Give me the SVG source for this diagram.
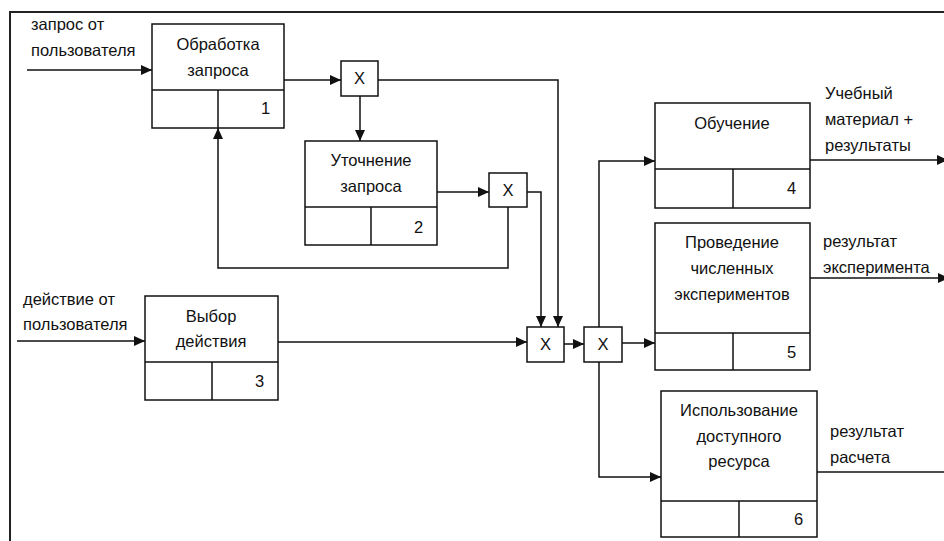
<svg xmlns="http://www.w3.org/2000/svg" width="944" height="541" viewBox="0 0 944 541">
  <style>
    .frame { fill: none; stroke: #222; stroke-width: 2; }
    .box { fill: #fff; stroke: #111; stroke-width: 1.5; }
    .div { fill: none; stroke: #111; stroke-width: 1.5; }
    .wire { fill: none; stroke: #111; stroke-width: 1.5; }
    .arrow { marker-end: url(#head); }
    text { font-family: "Liberation Sans", Arial, sans-serif; font-size: 16.5px; fill: #111; }
    .c { text-anchor: middle; }
  </style>
  <defs>
    <marker id="head" markerUnits="userSpaceOnUse" markerWidth="12" markerHeight="10" refX="11" refY="5" orient="auto">
      <path d="M0,0 L11,5 L0,10 Z" fill="#111"/>
    </marker>
  </defs>

  <rect width="944" height="541" fill="#fff"/>

  <!-- outer frame -->
  <path class="frame" d="M10,541 V12 H944"/>

  <!-- connectors -->
  <g id="connectors">
    <!-- external inputs -->
    <path class="wire arrow" d="M27,70 H152"/>
    <path class="wire arrow" d="M17,341 H145"/>
    <!-- 1 -> junction J1 -->
    <path class="wire arrow" d="M284,80 H341"/>
    <!-- J1 -> 2 -->
    <path class="wire arrow" d="M360,96 V141"/>
    <!-- J1 -> J3 -->
    <path class="wire arrow" d="M378,80 H558 V327"/>
    <!-- 2 -> J2 -->
    <path class="wire arrow" d="M437,192 H489"/>
    <!-- J2 -> J3 -->
    <path class="wire arrow" d="M527,192 H541 V327"/>
    <!-- J2 feedback -> 1 -->
    <path class="wire arrow" d="M508,207 V268 H218 V128"/>
    <!-- 3 -> J3 -->
    <path class="wire arrow" d="M278,342 H527"/>
    <!-- J3 -> J4 -->
    <path class="wire arrow" d="M564,344 H584"/>
    <!-- J4 -> 4, 5, 6 -->
    <path class="wire arrow" d="M599,327 V161 H655"/>
    <path class="wire arrow" d="M622,343 H655"/>
    <path class="wire arrow" d="M599,362 V477 H661"/>
    <!-- outputs -->
    <path class="wire arrow" d="M810,160 H948"/>
    <path class="wire arrow" d="M810,278 H949"/>
    <path class="wire arrow" d="M817,472 H955"/>
  </g>

  <!-- flow labels -->
  <g id="labels">
    <text x="31" y="30">запрос от</text>
    <text x="31" y="56">пользователя</text>
    <text x="23" y="305">действие от</text>
    <text x="23" y="330">пользователя</text>
    <text x="825" y="99">Учебный</text>
    <text x="825" y="125">материал +</text>
    <text x="825" y="151">результаты</text>
    <text x="823" y="247">результат</text>
    <text x="823" y="273">эксперимента</text>
    <text x="830" y="437">результат</text>
    <text x="830" y="463">расчета</text>
  </g>

  <!-- activity 1 -->
  <g id="node1">
    <rect class="box" x="152" y="24" width="132" height="104"/>
    <path class="div" d="M152,90 H284 M218,90 V128"/>
    <text class="c" x="218" y="50">Обработка</text>
    <text class="c" x="218" y="76">запроса</text>
    <text x="261" y="114">1</text>
  </g>

  <!-- activity 2 -->
  <g id="node2">
    <rect class="box" x="305" y="141" width="132" height="104"/>
    <path class="div" d="M305,207 H437 M371,207 V245"/>
    <text class="c" x="371" y="166">Уточнение</text>
    <text class="c" x="371" y="192">запроса</text>
    <text x="414" y="233">2</text>
  </g>

  <!-- activity 3 -->
  <g id="node3">
    <rect class="box" x="145" y="296" width="133" height="104"/>
    <path class="div" d="M145,362 H278 M212,362 V400"/>
    <text class="c" x="211" y="322">Выбор</text>
    <text class="c" x="211" y="347">действия</text>
    <text x="255" y="387">3</text>
  </g>

  <!-- activity 4 -->
  <g id="node4">
    <rect class="box" x="655" y="103" width="155" height="105"/>
    <path class="div" d="M655,169 H810 M733,169 V208"/>
    <text class="c" x="732" y="129">Обучение</text>
    <text x="787" y="194">4</text>
  </g>

  <!-- activity 5 -->
  <g id="node5">
    <rect class="box" x="655" y="223" width="155" height="147"/>
    <path class="div" d="M655,333 H810 M733,333 V370"/>
    <text class="c" x="732" y="248">Проведение</text>
    <text class="c" x="732" y="274">численных</text>
    <text class="c" x="732" y="300">экспериментов</text>
    <text x="787" y="358">5</text>
  </g>

  <!-- activity 6 -->
  <g id="node6">
    <rect class="box" x="661" y="391" width="156" height="146"/>
    <path class="div" d="M661,501 H817 M739,501 V537"/>
    <text class="c" x="739" y="416">Использование</text>
    <text class="c" x="739" y="442">доступного</text>
    <text class="c" x="739" y="467">ресурса</text>
    <text x="794" y="525">6</text>
  </g>

  <!-- junctions -->
  <g id="j1">
    <rect class="box" x="341" y="61" width="37" height="35"/>
    <text class="c" x="359.5" y="84">X</text>
  </g>
  <g id="j2">
    <rect class="box" x="489" y="173" width="38" height="34"/>
    <text class="c" x="508" y="196">X</text>
  </g>
  <g id="j3">
    <rect class="box" x="527" y="327" width="37" height="35"/>
    <text class="c" x="545.5" y="350">X</text>
  </g>
  <g id="j4">
    <rect class="box" x="584" y="327" width="38" height="35"/>
    <text class="c" x="603" y="350">X</text>
  </g>
</svg>
